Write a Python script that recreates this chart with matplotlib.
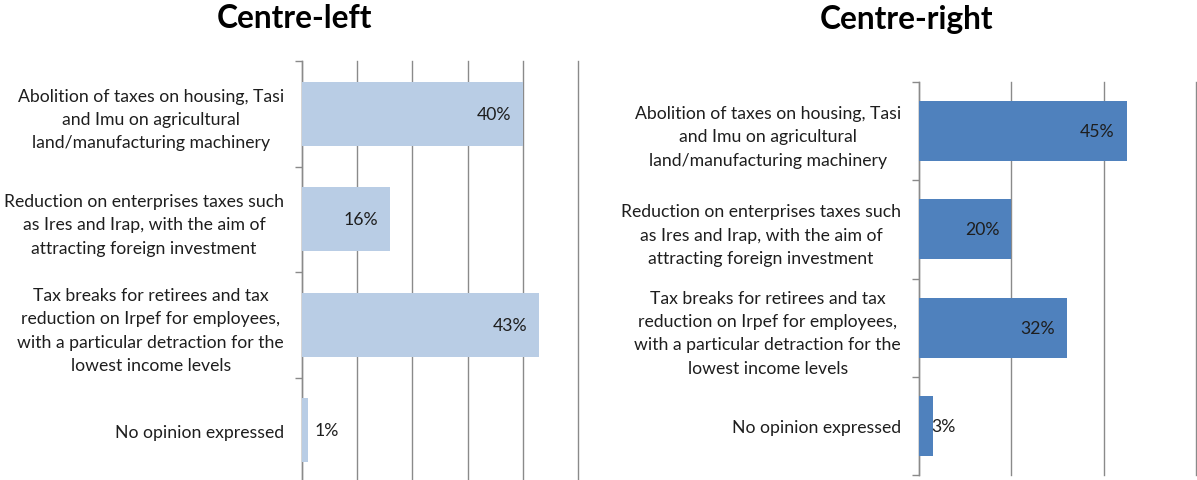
import matplotlib
matplotlib.use("Agg")
import matplotlib.pyplot as plt
from matplotlib.ticker import MultipleLocator
from matplotlib.transforms import offset_copy

# Survey answers, shared by both panels
categories = [
    "Abolition of taxes on housing, Tasi\nand Imu on agricultural\nland/manufacturing machinery",
    "Reduction on enterprises taxes such\nas Ires and Irap, with the aim of\nattracting foreign investment",
    "Tax breaks for retirees and tax\nreduction on Irpef for employees,\nwith a particular detraction for the\nlowest income levels",
    "No opinion expressed",
]

# Share of respondents (percent)
centre_left = [40, 16, 43, 1]
centre_right = [45, 20, 32, 3]

panel_titles = ["Centre-left", "Centre-right"]

plt.rcParams["font.family"] = ["Lato", "DejaVu Sans"]

W, H = 1197, 481
fig = plt.figure(figsize=(W / 100, H / 100), dpi=100)
fig.patch.set_facecolor("white")

GRID = "#8a8a8a"
TEXT = "#1e1e1e"
LABEL_SIZE = 12.7


def px_rect(left, top, right, bottom):
    return [left / W, 1 - bottom / H, (right - left) / W, (bottom - top) / H]


def draw_panel(rect, values, color, xmax, step, title, title_xy):
    ax = fig.add_axes(rect)
    n = len(values)
    centers = [n - 0.5 - i for i in range(n)]
    ax.barh(centers, values, height=0.61, color=color, zorder=3)
    ax.set_xlim(0, xmax)
    ax.set_ylim(0, n)

    ax.xaxis.set_major_locator(MultipleLocator(step))
    ax.grid(axis="x", color=GRID, linewidth=1.0, zorder=0)
    ax.tick_params(axis="x", length=0, labelbottom=False)

    for s in ["top", "right", "bottom"]:
        ax.spines[s].set_visible(False)
    ax.spines["left"].set_color(GRID)
    ax.spines["left"].set_linewidth(1.0)

    # boundary ticks between categories, labels at category centres
    ax.set_yticks(range(n + 1))
    ax.set_yticklabels([])
    ax.tick_params(axis="y", which="major", length=5, width=1.0, color=GRID)
    ax.set_yticks(centers, categories, minor=True)
    ax.tick_params(axis="y", which="minor", length=0, pad=13,
                   labelsize=LABEL_SIZE, labelcolor=TEXT)
    for lbl in ax.get_yticklabels(minor=True):
        lbl.set_multialignment("center")
        lbl.set_linespacing(1.56)

    fig.canvas.draw()
    for gl in ax.get_xgridlines():
        gl.set_clip_on(False)

    # value labels: inside the bar end, pushed right when the bar is too short
    ppd = ax.transData.transform((1, 0))[0] - ax.transData.transform((0, 0))[0]
    for y, v in zip(centers, values):
        if v * ppd > 52:
            tr = offset_copy(ax.transData, fig=fig, x=-12, y=0, units="dots")
            ax.text(v, y, f"{v}%", transform=tr, ha="right", va="center",
                    fontsize=LABEL_SIZE, color=TEXT, zorder=4)
        else:
            tr = offset_copy(ax.transData, fig=fig, x=12, y=0, units="dots")
            ax.text(0, y, f"{v}%", transform=tr, ha="left", va="center",
                    fontsize=LABEL_SIZE, color=TEXT, zorder=4)

    fig.text(title_xy[0] / W, 1 - title_xy[1] / H, title, ha="center",
             va="center", fontsize=22.8, fontweight="bold", color="black")
    return ax


draw_panel(px_rect(302, 62, 578, 484), centre_left, "#b9cde5", 50, 10,
           panel_titles[0], (295, 19))
draw_panel(px_rect(919, 83, 1196, 476), centre_right, "#4f81bd", 60, 20,
           panel_titles[1], (907, 19))

fig.savefig("out.png", dpi=100, facecolor="white")
